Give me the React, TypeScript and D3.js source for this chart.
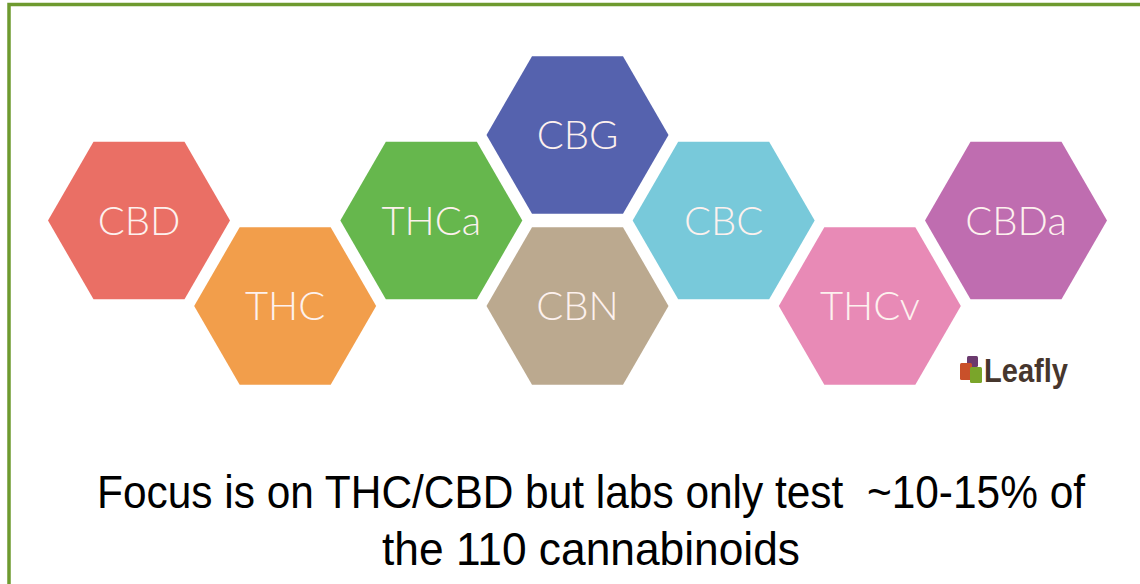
import React, { useLayoutEffect, useRef, useState } from "react";
import * as d3 from "d3";

const names = ["CBD", "THC", "THCa", "CBG", "CBN", "CBC", "THCv", "CBDa"];
const columns = [0, 1, 2, 3, 3, 4, 5, 6];
const rows = [1, 2, 1, 0, 2, 1, 2, 1];
const colors = ["#ea6f65", "#f29e4b", "#66b74d", "#5562ae", "#bba98f", "#78c9da", "#e88ab6", "#bf6db0"];
const captionLines = ["Focus is on THC/CBD but labs only test  ~10-15% of", "the 110 cannabinoids"];
const captionWidths = [988, 418];
const brand = "Leafly";

const W = 1140;
const H = 584;
const R = 91;

function hexPath(cx: number, cy: number, r: number) {
  const pts: [number, number][] = d3.range(6).map((i) => {
    const a = (Math.PI / 3) * i;
    return [cx + r * Math.cos(a), cy + r * Math.sin(a)];
  });
  return (d3.line()(pts) || "") + "Z";
}

function FitText(props: { text: string; cx: number; y: number; width: number; fontSize: number }) {
  const ref = useRef<SVGTextElement>(null);
  const [sx, setSx] = useState(0.86);
  useLayoutEffect(() => {
    if (ref.current) {
      const w = ref.current.getComputedTextLength();
      if (w > 0) setSx(props.width / w);
    }
  }, [props.text, props.width]);
  return (
    <g transform={`translate(${props.cx},${props.y}) scale(${sx},1)`}>
      <text
        ref={ref}
        x={0}
        y={0}
        textAnchor="middle"
        fontFamily="'Liberation Sans', Arial, sans-serif"
        fontSize={props.fontSize}
        fill="#000"
        style={{ whiteSpace: "pre" }}
      >
        {props.text}
      </text>
    </g>
  );
}

export default function App() {
  const x = d3.scaleLinear().domain([0, 6]).range([139, 1016]);
  const y = d3.scaleLinear().domain([0, 2]).range([135, 306]);

  return (
    <svg
      width={W}
      height={H}
      viewBox={`0 0 ${W} ${H}`}
      style={{ position: "absolute", left: 0, top: 0, display: "block", background: "#fff" }}
    >
      <rect x={0} y={0} width={W} height={H} fill="#fff" />
      <rect x={9} y={4.5} width={W + 20} height={H + 20} fill="none" stroke="#6e9a2f" strokeWidth={3.5} />
      {names.map((n, i) => (
        <g key={n}>
          <path d={hexPath(x(columns[i]), y(rows[i]), R)} fill={colors[i]} />
          <text
            x={x(columns[i])}
            y={y(rows[i])}
            dy="0.36em"
            textAnchor="middle"
            fontFamily="Lato, 'Open Sans', sans-serif"
            fontWeight={300}
            fontSize={40}
            fill="#fdf1ee"
          >
            {n}
          </text>
        </g>
      ))}
      <g>
        <rect x={967} y={356} width={11} height={11} rx={1.5} fill="#6b3a6e" />
        <rect x={960} y={363} width={12} height={17} rx={1.5} fill="#c9502a" />
        <rect x={970} y={367} width={12} height={16} rx={1.5} fill="#7aa52a" />
        <text
          x={984}
          y={382}
          fontFamily="'Liberation Sans', Arial, sans-serif"
          fontWeight={700}
          fontSize={34}
          fill="#46362d"
          textLength={84}
          lengthAdjust="spacingAndGlyphs"
        >
          {brand}
        </text>
      </g>
      {captionLines.map((t, i) => (
        <FitText key={i} text={t} cx={591} y={508 + i * 57} width={captionWidths[i]} fontSize={46} />
      ))}
    </svg>
  );
}
